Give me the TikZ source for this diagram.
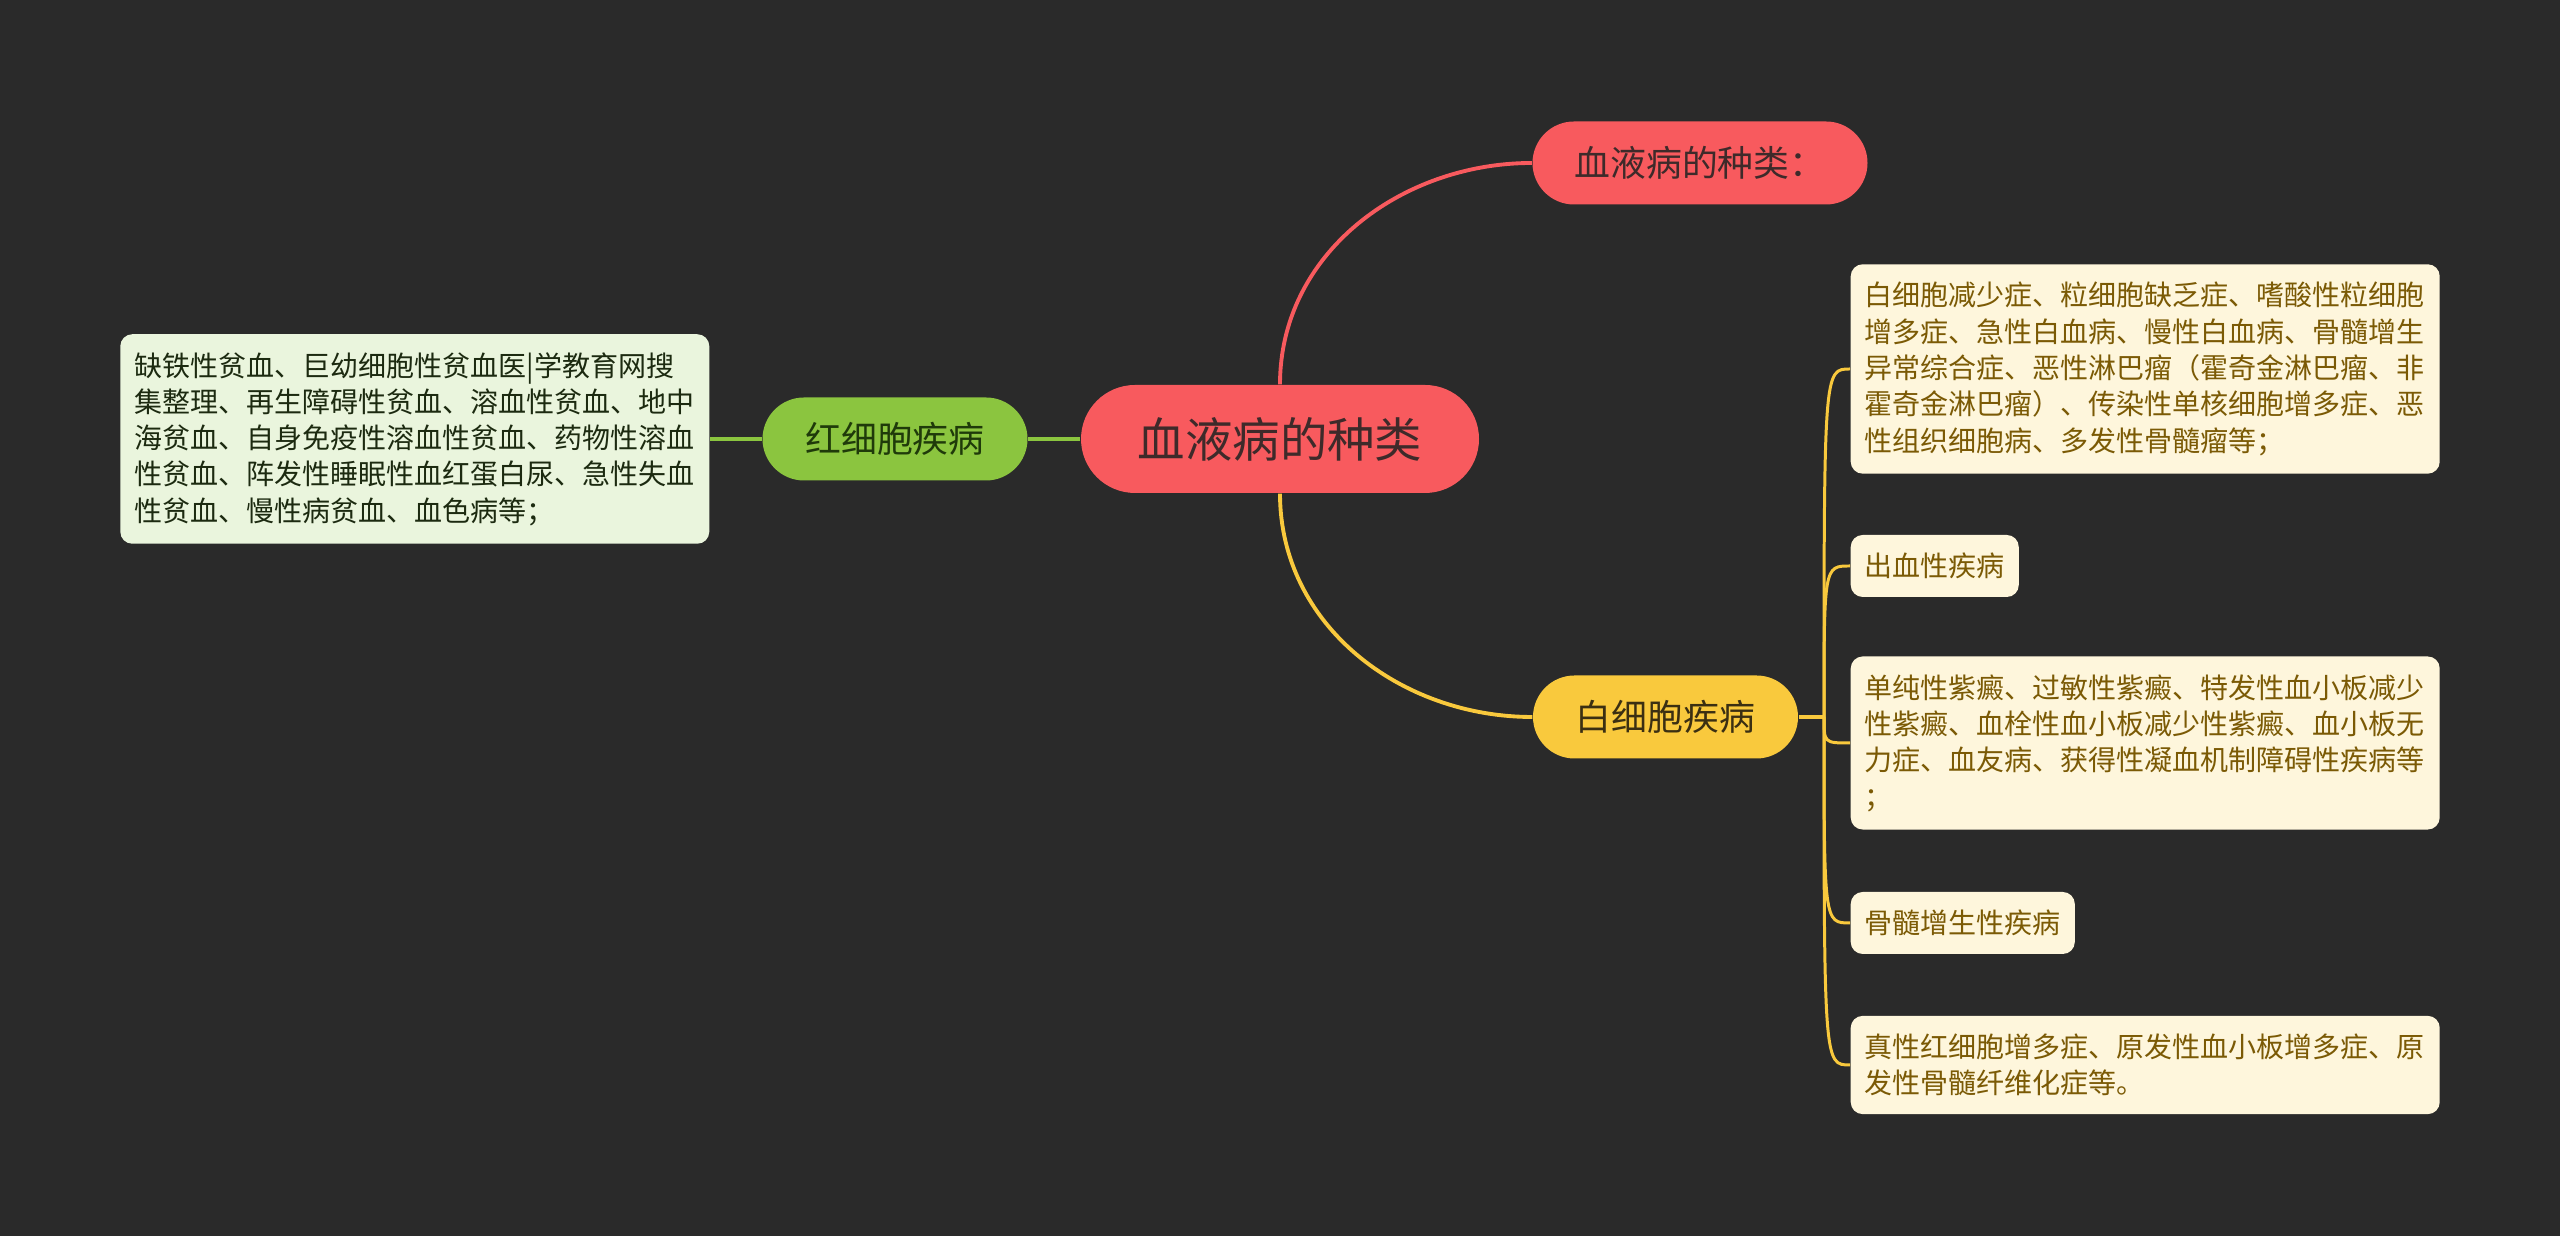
\documentclass[tikz,border=0pt]{standalone}
\usepackage{fontspec}
\setmainfont{Noto Sans CJK SC}
\usetikzlibrary{calc}
\definecolor{bgdark}{HTML}{2A2A2A}
\definecolor{redmain}{HTML}{F85A5E}
\definecolor{redtext}{HTML}{3E2A2A}
\definecolor{greenmain}{HTML}{8BC53F}
\definecolor{greentext}{HTML}{1F3A0A}
\definecolor{lightgreen}{HTML}{EAF5DD}
\definecolor{greendark}{HTML}{1C2A10}
\definecolor{yellowmain}{HTML}{F9C93D}
\definecolor{yellowtext}{HTML}{3B2F12}
\definecolor{cream}{HTML}{FEF6DC}
\definecolor{creamtext}{HTML}{7B5A05}

\begin{document}
\begin{tikzpicture}[
  rootpill/.style={fill=redmain, text=redtext, minimum width=3.98cm, minimum height=1.08cm,
    rounded corners=0.54cm, inner sep=0pt, font=\fontsize{13.5}{16}\selectfont},
  subpill/.style={minimum height=0.83cm, rounded corners=0.415cm, inner sep=0pt,
    font=\fontsize{10.2}{12}\selectfont},
  leafbox/.style={fill=cream, text=creamtext, rounded corners=0.12cm, inner xsep=0.14cm,
    inner ysep=0.18cm, align=left, font=\fontsize{7.97}{10.33}\selectfont},
  widebox/.style={text width=5.61cm},
  redline/.style={draw=redmain, line width=1.1pt},
  greenline/.style={draw=greenmain, line width=1.1pt},
  yellowline/.style={draw=yellowmain, line width=1.1pt},
  forkline/.style={draw=yellowmain, line width=0.85pt}
]
  \useasboundingbox (0,0) rectangle (25.6,12.36);
  \fill[bgdark] (0,0) rectangle (25.6,12.36);

  % main topic and branches
  \node[rootpill] (root) at (12.80, 7.97) {血液病的种类};
  \node[subpill, fill=redmain, text=redtext, minimum width=3.35cm] (kinds) at (17.00, 10.73) {血液病的种类：};
  \node[subpill, fill=greenmain, text=greentext, minimum width=2.65cm] (rbc) at (8.95, 7.97) {红细胞疾病};
  \node[subpill, fill=yellowmain, text=yellowtext, minimum width=2.65cm] (wbc) at (16.655, 5.19) {白细胞疾病};

  % left detail
  \node[leafbox, widebox, fill=lightgreen, text=greendark, anchor=east] (rbclist) at (7.10, 7.97)
    {缺铁性贫血、巨幼细胞性贫血医|学教育网搜\\集整理、再生障碍性贫血、溶血性贫血、地中\\海贫血、自身免疫性溶血性贫血、药物性溶血\\性贫血、阵发性睡眠性血红蛋白尿、急性失血\\性贫血、慢性病贫血、血色病等；};

  % right details
  \node[leafbox, widebox, anchor=west] (wbc1) at (18.50, 8.67)
    {白细胞减少症、粒细胞缺乏症、嗜酸性粒细胞\\增多症、急性白血病、慢性白血病、骨髓增生\\异常综合症、恶性淋巴瘤（霍奇金淋巴瘤、非\\霍奇金淋巴瘤）、传染性单核细胞增多症、恶\\性组织细胞病、多发性骨髓瘤等；};
  \node[leafbox, anchor=west] (wbc2) at (18.50, 6.70) {出血性疾病};
  \node[leafbox, widebox, anchor=west] (wbc3) at (18.50, 4.93)
    {单纯性紫癜、过敏性紫癜、特发性血小板减少\\性紫癜、血栓性血小板减少性紫癜、血小板无\\力症、血友病、获得性凝血机制障碍性疾病等\\；};
  \node[leafbox, anchor=west] (wbc4) at (18.50, 3.13) {骨髓增生性疾病};
  \node[leafbox, widebox, anchor=west] (wbc5) at (18.50, 1.71)
    {真性红细胞增多症、原发性血小板增多症、原\\发性骨髓纤维化症等。};

  % connectors
  \draw[redline] (root.north) to[out=90, in=180] (kinds.west);
  \draw[yellowline] (root.south) to[out=-90, in=180] (wbc.west);
  \draw[greenline] (root.west) -- (rbc.east);
  \draw[greenline] (rbc.west) -- (rbclist.east);
  \coordinate (fork) at (18.24, 5.19);
  \draw[yellowline] (wbc.east) -- (fork);
  \foreach \b in {wbc1, wbc2, wbc3, wbc4, wbc5}
    \draw[forkline] (fork) .. controls (fork |- \b.west) .. (\b.west);
\end{tikzpicture}
\end{document}
